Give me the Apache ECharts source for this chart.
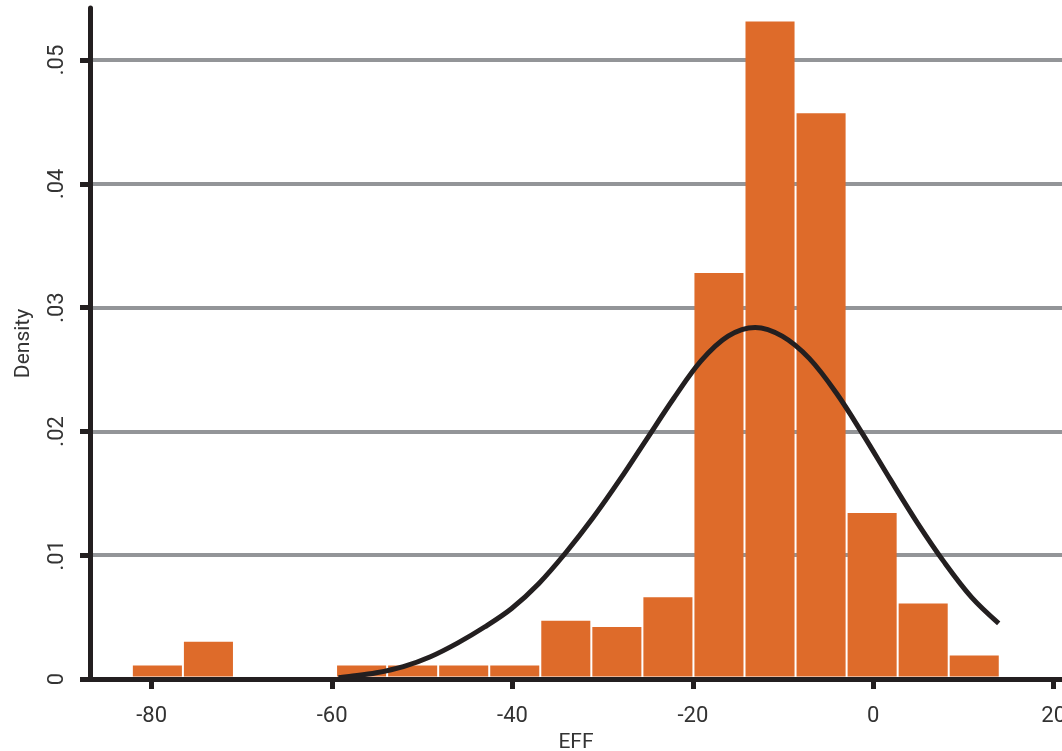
<!DOCTYPE html>
<html>
<head>
<meta charset="utf-8">
<style>
html,body{margin:0;padding:0;background:#fff;}
#chart{width:1062px;height:751px;}
</style>
<script src="https://cdn.jsdelivr.net/npm/echarts@6/dist/echarts.min.js"></script>
</head>
<body>
<div id="chart"></div>
<script>
// Histogram bins (left edges, width) and density heights
const binLeft = [-82.20, -76.54, -70.88, -65.22, -59.56, -53.90, -48.24, -42.58, -36.92, -31.26, -25.60, -19.94, -14.28, -8.62, -2.96, 2.70, 8.36];
const binWidth = 5.66;
const density = [0.0011, 0.0030, 0, 0, 0.0011, 0.0011, 0.0011, 0.0011, 0.0047, 0.0042, 0.0066, 0.0328, 0.0531, 0.0457, 0.0134, 0.0061, 0.0019];

// Normal density curve
const curveX = [-59.3, -58.1, -55.1, -52.1, -49.1, -46.1, -43.1, -40.1, -37.1, -34.1, -31.1, -28.1, -25.1, -22.1, -19.1, -16.1, -13.1, -10.1, -7.1, -4.1, -1.1, 1.9, 4.9, 7.9, 10.9, 13.9];
const curveY = [0.0001, 0.0002, 0.0005, 0.0010, 0.0018, 0.0029, 0.0042, 0.0057, 0.0077, 0.0102, 0.0130, 0.0161, 0.0194, 0.0227, 0.0257, 0.0277, 0.0284, 0.0277, 0.0259, 0.0231, 0.0197, 0.0161, 0.0126, 0.0094, 0.0066, 0.0045];

// Tick labels
const xTicks = [-80, -60, -40, -20, 0, 20];
const yTicks = [0, 0.01, 0.02, 0.03, 0.04, 0.05];
const yTickLabels = ['0', '.01', '.02', '.03', '.04', '.05'];

const barData = binLeft.map((l, i) => [l, l + binWidth, density[i]]);
const curveData = curveX.map((x, i) => [x, curveY[i]]);

const chart = echarts.init(document.getElementById('chart'));
const font = 'Roboto';
chart.setOption({
  animation: false,
  backgroundColor: '#ffffff',
  grid: {left: 90, right: 0, top: 8, bottom: 72, containLabel: false, outerBoundsMode: 'none'},
  xAxis: {
    type: 'value',
    min: -86.84, max: 20.92,
    name: 'EFF', nameLocation: 'middle', nameGap: 47,
    nameTextStyle: {fontFamily: font, fontSize: 21, color: '#333'},
    axisLine: {show: true, onZero: false, lineStyle: {color: '#231f20', width: 5}},
    axisTick: {show: true, length: 10, lineStyle: {color: '#231f20', width: 5}, customValues: xTicks},
    axisLabel: {fontFamily: font, fontSize: 22, color: '#333', margin: 26, customValues: xTicks,
      showMinLabel: true, showMaxLabel: true, formatter: v => String(v)},
    splitLine: {show: false}
  },
  yAxis: {
    type: 'value',
    min: 0, max: 0.0542, interval: 0.01,
    name: 'Density', nameLocation: 'middle', nameGap: 56,
    nameTextStyle: {fontFamily: font, fontSize: 21, color: '#333'},
    axisLine: {show: true, onZero: false, lineStyle: {color: '#231f20', width: 5}},
    axisTick: {show: true, length: 10, lineStyle: {color: '#231f20', width: 5}, customValues: yTicks},
    axisLabel: {fontFamily: font, fontSize: 22, color: '#333', margin: 22, rotate: 90, customValues: yTicks,
      formatter: (v) => yTickLabels[Math.round(v * 100)]},
    splitLine: {show: true, showMinLine: false, lineStyle: {color: '#939598', width: 4}}
  },
  series: [
    {
      type: 'custom',
      data: barData,
      z: 3,
      renderItem: function (params, api) {
        const x0 = api.value(0), x1 = api.value(1), y = api.value(2);
        if (!y) return null;
        const p0 = api.coord([x0, y]);
        const p1 = api.coord([x1, 0]);
        return {
          type: 'rect',
          shape: {x: p0[0] + 1, y: p0[1], width: p1[0] - p0[0] - 2, height: p1[1] - 2.5 - p0[1]},
          style: {fill: '#de6b2a'}
        };
      }
    },
    {
      type: 'line',
      data: curveData,
      smooth: 0.35,
      showSymbol: false,
      z: 5,
      lineStyle: {color: '#231f20', width: 5}
    }
  ]
});
</script>
</body>
</html>
